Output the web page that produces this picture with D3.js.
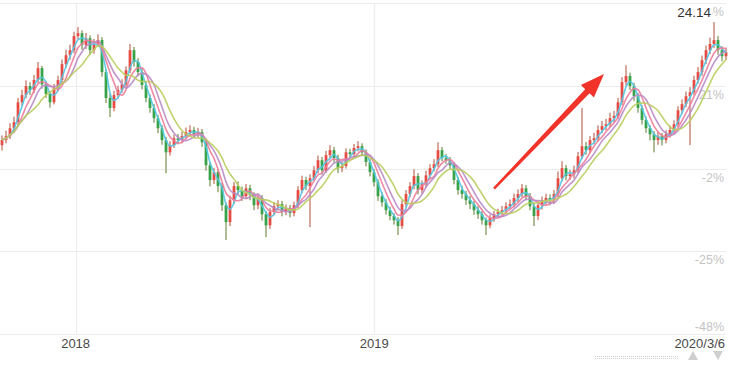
<!DOCTYPE html>
<html><head><meta charset="utf-8">
<script src="https://cdn.jsdelivr.net/npm/d3@7"></script>
<style>html,body{margin:0;padding:0;background:#fff;}svg{display:block;}</style>
</head><body>
<svg id="chart" width="736" height="366"></svg>
<script>
// ---- data (percent change) ----
const closes = [5.9,7.0,9.2,10.9,16.4,18.4,20.9,19.8,22.6,25.9,
21.4,18.7,16.4,20.3,22.6,27.0,29.5,30.9,34.8,35.6,
32.3,34.2,30.9,32.6,33.7,24.8,17.6,14.8,18.4,19.8,
21.4,25.3,30.9,27.6,24.8,21.2,17.6,14.8,12.0,9.2,
5.9,2.5,4.5,6.4,5.9,7.0,8.1,8.7,7.5,8.1,
5.3,-1.1,-5.2,-3.0,-6.9,-12.2,-16.9,-10.8,-6.9,-8.0,
-9.7,-7.5,-9.4,-12.2,-10.2,-14.7,-17.8,-14.1,-12.5,-11.9,
-14.1,-13.0,-14.4,-12.2,-8.0,-5.2,-6.9,-4.7,-2.5,0.3,
-2.5,1.7,3.1,0.9,-1.9,-1.3,2.5,2.0,3.7,4.2,
2.5,-0.2,-3.0,-5.8,-9.7,-11.4,-13.6,-15.2,-16.4,-18.0,
-11.9,-9.1,-6.9,-4.1,-8.0,-6.4,-3.9,-1.9,-0.8,3.1,
0.9,0.3,-1.1,-5.2,-8.0,-9.1,-10.8,-11.9,-13.6,-14.7,
-16.4,-17.8,-15.8,-14.7,-14.1,-13.6,-12.5,-11.9,-10.2,-9.1,
-7.5,-9.7,-12.5,-15.2,-12.2,-10.8,-10.2,-10.8,-9.1,-4.7,
-1.9,-4.1,-3.6,-2.5,1.4,4.2,3.1,5.9,6.4,8.7,
9.8,10.3,12.0,12.6,16.4,22.0,23.7,20.9,18.1,14.8,
11.5,9.2,7.5,5.9,7.0,5.9,7.5,8.7,10.3,14.2,
15.9,18.1,19.2,22.6,24.8,28.1,30.9,32.6,33.7,30.9,
29.2,30.3];
const opens = [4.5,5.9,7.0,9.2,10.9,16.4,18.4,20.9,19.8,22.6,
25.9,21.4,18.7,16.4,20.3,22.6,27.0,29.5,30.9,34.8,
35.6,32.3,34.2,30.9,32.6,33.7,24.8,17.6,14.8,18.4,
19.8,21.4,25.3,30.9,27.6,24.8,21.2,17.6,14.8,12.0,
9.2,5.9,2.5,4.5,6.4,5.9,7.0,8.1,8.7,7.5,
8.1,5.3,-1.1,-5.2,-3.0,-6.9,-12.2,-16.9,-10.8,-6.9,
-8.0,-9.7,-7.5,-9.4,-12.2,-10.2,-14.7,-17.8,-14.1,-12.5,
-11.9,-14.1,-13.0,-14.4,-12.2,-8.0,-5.2,-6.9,-4.7,-2.5,
0.3,-2.5,1.7,3.1,0.9,-1.9,-1.3,2.5,2.0,3.7,
4.2,2.5,-0.2,-3.0,-5.8,-9.7,-11.4,-13.6,-15.2,-16.4,
-18.0,-11.9,-9.1,-6.9,-4.1,-8.0,-6.4,-3.9,-1.9,-0.8,
3.1,0.9,0.3,-1.1,-5.2,-8.0,-9.1,-10.8,-11.9,-13.6,
-14.7,-16.4,-17.8,-15.8,-14.7,-14.1,-13.6,-12.5,-11.9,-10.2,
-9.1,-7.5,-9.7,-12.5,-15.2,-12.2,-10.8,-10.2,-10.8,-9.1,
-4.7,-1.9,-4.1,-3.6,-2.5,1.4,4.2,3.1,5.9,6.4,
8.7,9.8,10.3,12.0,12.6,16.4,22.0,23.7,20.9,18.1,
14.8,11.5,9.2,7.5,5.9,7.0,5.9,7.5,8.7,10.3,
14.2,15.9,18.1,19.2,22.6,24.8,28.1,30.9,32.6,33.7,
30.9,29.2];
const highs = [7.2,8.5,10.6,12.4,17.6,19.9,22.5,22.0,24.0,27.6,
26.5,22.3,19.5,21.5,23.8,28.3,31.0,32.4,36.0,37.3,
36.4,35.7,35.0,34.0,35.3,34.5,25.6,18.8,19.6,21.0,
22.8,26.4,32.6,31.8,28.7,25.8,22.0,18.5,15.9,12.9,
10.1,6.8,5.6,7.5,7.6,8.2,9.4,10.0,9.6,9.3,
9.0,6.0,-0.2,-1.8,-2.2,-6.0,-11.4,-9.6,-5.8,-5.6,
-7.0,-6.3,-6.5,-8.6,-9.0,-9.4,-13.8,-13.0,-11.3,-10.8,
-11.0,-12.0,-12.1,-11.2,-6.9,-4.0,-4.3,-3.6,-1.3,1.6,
1.2,2.9,4.5,4.0,1.8,-0.2,3.6,3.5,4.8,5.6,
5.0,3.3,0.6,-2.2,-5.0,-8.6,-10.5,-12.6,-14.4,-15.5,
-10.8,-8.0,-5.8,-2.2,-3.3,-5.3,-2.6,-0.8,0.6,5.3,
4.0,2.0,1.2,-0.3,-4.3,-6.8,-8.2,-9.6,-11.0,-12.4,
-13.8,-15.6,-14.8,-13.8,-13.2,-12.4,-11.4,-10.6,-9.0,-7.8,
-6.3,-6.6,-8.8,-11.6,-11.0,-9.8,-9.0,-9.2,-8.0,-2.8,
0.0,-1.0,-2.4,-1.2,2.6,14.8,5.4,7.0,7.9,10.0,
11.2,11.8,13.5,14.0,17.6,23.4,26.7,24.6,21.8,19.0,
15.6,12.4,10.0,8.4,8.2,7.9,8.6,9.9,11.4,15.3,
17.2,19.4,20.6,23.8,26.2,29.4,32.2,34.4,38.7,34.8,
32.0,31.6];
const lows = [3.0,5.0,6.2,8.0,10.0,15.3,17.5,18.4,18.9,21.8,
20.2,17.6,14.9,15.8,19.4,21.9,26.0,28.2,30.0,33.8,
31.0,31.2,29.6,29.9,31.8,23.5,16.2,12.3,13.9,17.5,
19.0,20.6,24.5,26.3,23.6,20.0,16.4,13.5,10.7,7.8,
4.6,-3.3,1.6,3.7,4.7,5.0,6.2,7.2,6.4,6.6,
4.0,-2.6,-7.0,-6.3,-8.6,-13.8,-21.9,-18.0,-11.8,-9.3,
-11.0,-10.6,-10.8,-13.6,-13.3,-16.5,-21.1,-18.8,-15.0,-13.7,
-15.3,-15.0,-15.6,-15.3,-13.0,-8.9,-8.0,-18.3,-5.6,-3.4,
-3.7,-3.2,0.8,-0.3,-3.3,-3.0,-2.0,1.0,1.2,2.8,
1.4,-1.4,-4.2,-7.0,-11.0,-12.6,-14.8,-16.4,-17.6,-20.5,
-18.8,-12.8,-10.0,-7.8,-9.2,-9.0,-7.3,-4.8,-2.8,-1.6,
0.0,-0.7,-2.3,-6.4,-9.3,-10.4,-12.1,-13.3,-14.9,-16.0,
-17.6,-20.5,-18.6,-16.8,-15.6,-15.0,-14.5,-13.4,-12.8,-11.3,
-10.0,-10.8,-13.6,-18.0,-16.3,-13.4,-12.0,-12.2,-11.9,-10.0,
-5.6,-5.3,-5.2,-4.8,-3.4,0.6,1.8,2.2,4.8,5.5,
7.8,8.6,9.4,10.8,11.8,15.6,21.0,19.8,16.8,13.5,
10.2,7.9,5.8,2.5,4.6,4.4,5.0,6.6,7.8,9.5,
13.2,15.0,4.5,18.3,21.6,23.8,27.0,29.8,31.5,29.6,
27.8,28.2];
const maPeriods = [3, 5, 7, 10];
const maColors = ["#52c6e6", "#ee7c9c", "#b98ac8", "#b9cd5c"];
const yTicks = [44, 21, -2, -25, -48];
const yTickLabels = ["44%", "21%", "-2%", "-25%", "-48%"];
const xTickDates = [new Date(2018,0,1), new Date(2019,0,1)];
const xTickLabels = ["2018", "2019"];
const startDate = new Date(2017,9,3), endDate = new Date(2020,2,6);
const endLabel = "2020/3/6";
const maxLabel = "24.14";
const arrowFrom = [123, -7.6], arrowTo = [150.5, 24.3];

// ---- scales ----
const W = 736, H = 366;
const svg = d3.select("#chart");
const N = closes.length;
const x = d3.scaleLinear().domain([0, N-1]).range([2, 726]);
const xt = d3.scaleTime().domain([startDate, endDate]).range([2, 726]);
const y = d3.scaleLinear().domain([-48, 44]).range([334, 3]);

// grid
const grid = svg.append("g");
grid.selectAll("line.h").data(yTicks).join("line")
  .attr("x1", 0).attr("x2", 726)
  .attr("y1", d => Math.round(y(d)) + 0.5).attr("y2", d => Math.round(y(d)) + 0.5)
  .attr("stroke", "#ececec").attr("stroke-width", 1.2);
grid.selectAll("line.v").data(xTickDates).join("line")
  .attr("x1", d => Math.round(xt(d)) + 0.5).attr("x2", d => Math.round(xt(d)) + 0.5)
  .attr("y1", y(44)).attr("y2", y(-48))
  .attr("stroke", "#ececec").attr("stroke-width", 1.2);

// y labels
svg.append("g").selectAll("text").data(yTicks).join("text")
  .attr("x", 724)
  .attr("y", (d, i) => i === yTicks.length - 1 ? y(d) - 3 : y(d) + 13)
  .attr("text-anchor", "end")
  .attr("font-family", "Liberation Sans, Arial, sans-serif")
  .attr("font-size", 12.5).attr("fill", "#c4c4c4")
  .text((d, i) => yTickLabels[i]);

// candles
const data = closes.map((c, i) => ({i, o: opens[i], c, h: highs[i], l: lows[i]}));
const up = "#e8413a", down = "#2a9e3e";
const cg = svg.append("g");
cg.selectAll("line").data(data).join("line")
  .attr("x1", d => x(d.i)).attr("x2", d => x(d.i))
  .attr("y1", d => y(d.h)).attr("y2", d => y(d.l))
  .attr("stroke", d => d.c >= d.o ? "#b0503a" : "#5e7a2e").attr("stroke-width", 1);
cg.selectAll("rect").data(data).join("rect")
  .attr("x", d => x(d.i) - 1.4).attr("width", 2.8)
  .attr("y", d => y(Math.max(d.o, d.c)))
  .attr("height", d => Math.max(1, Math.abs(y(d.o) - y(d.c))))
  .attr("fill", d => d.c >= d.o ? up : down)
  .attr("opacity", 0.9);

// moving averages
function movingAvg(n) {
  return closes.map((_, i) => d3.mean(closes.slice(Math.max(0, i - n + 1), i + 1)));
}
const line = d3.line().x((d, i) => x(i)).y(d => y(d)).curve(d3.curveMonotoneX);
maPeriods.forEach((p, k) => {
  svg.append("path").datum(movingAvg(p))
    .attr("d", line).attr("fill", "none")
    .attr("stroke", maColors[k]).attr("stroke-width", 1.6).attr("opacity", 0.9);
});

// arrow annotation
(function(){
  const x0 = x(arrowFrom[0]), y0 = y(arrowFrom[1]);
  const x1 = x(arrowTo[0]), y1 = y(arrowTo[1]);
  const dx = x1 - x0, dy = y1 - y0, L = Math.hypot(dx, dy);
  const ux = dx / L, uy = dy / L, px = -uy, py = ux;
  const headL = 24, headW = 9, tailW = 1.2, neckW = 3;
  const bx = x1 - ux * headL, by = y1 - uy * headL;
  const pts = [
    [x0 + px * tailW, y0 + py * tailW],
    [bx + px * neckW, by + py * neckW],
    [bx + px * headW, by + py * headW],
    [x1, y1],
    [bx - px * headW, by - py * headW],
    [bx - px * neckW, by - py * neckW],
    [x0 - px * tailW, y0 - py * tailW]
  ];
  svg.append("path").attr("d", "M" + pts.map(p => p.join(",")).join("L") + "Z")
    .attr("fill", "#f2332a");
})();

// max label
const maxIdx = d3.maxIndex(highs);
svg.append("rect").attr("x", 674).attr("y", 4).attr("width", 38).attr("height", 15).attr("fill", "#fff");
svg.append("text").attr("x", 711).attr("y", 17).attr("text-anchor", "end")
  .attr("font-family", "Liberation Sans, Arial, sans-serif")
  .attr("font-size", 13.5).attr("fill", "#333").text(maxLabel);

// x labels
const xl = svg.append("g").attr("font-family", "Liberation Sans, Arial, sans-serif")
  .attr("font-size", 13).attr("fill", "#4a4a4a");
xl.selectAll("text.t").data(xTickDates).join("text")
  .attr("x", d => xt(d)).attr("y", 348).attr("text-anchor", "middle")
  .text((d, i) => xTickLabels[i]);
xl.append("text").attr("x", xt(endDate) - 1).attr("y", 348).attr("text-anchor", "end").text(endLabel);

// bottom chrome: scroll strip and arrows
svg.append("line").attr("x1", 595).attr("x2", 678).attr("y1", 356.5).attr("y2", 356.5)
  .attr("stroke", "#d0d0d0").attr("stroke-dasharray", "1,1");
svg.append("line").attr("x1", 595).attr("x2", 678).attr("y1", 358.5).attr("y2", 358.5)
  .attr("stroke", "#d0d0d0").attr("stroke-dasharray", "1,1");
svg.append("path").attr("d", "M693,351L698,360L688,360Z").attr("fill", "#cfcfcf");
svg.append("path").attr("d", "M713,351L723,351L718,360Z").attr("fill", "#cfcfcf");
</script>
</body></html>
